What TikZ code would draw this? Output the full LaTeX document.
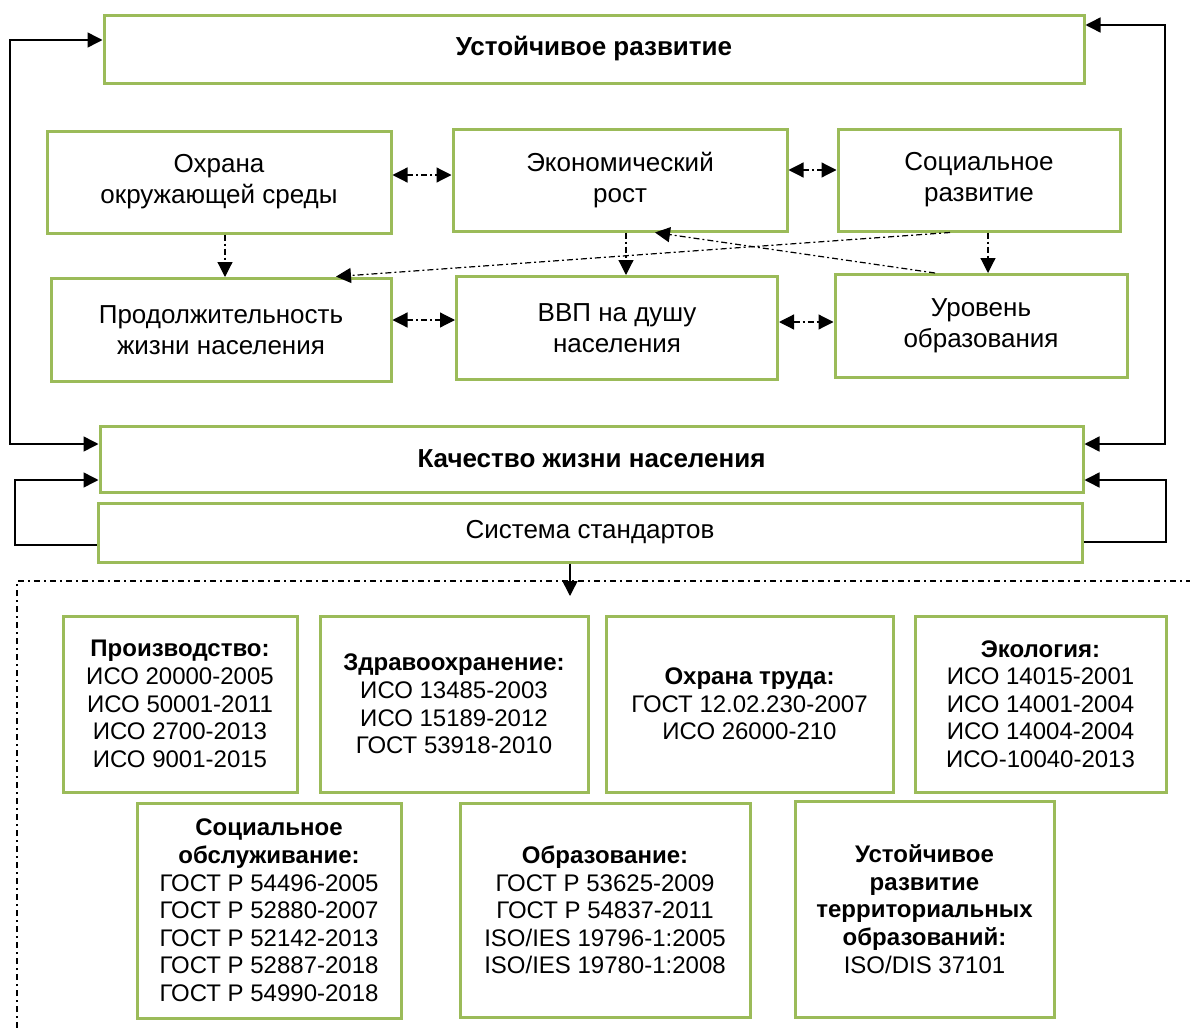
\documentclass[tikz,border=0pt]{standalone}
\usepackage{fontspec}
\setmainfont{Liberation Sans}
\usetikzlibrary{arrows.meta}
\definecolor{boxgreen}{RGB}{155,187,89}

\begin{document}
\begin{tikzpicture}[x=0.5pt,y=-0.5pt,
    >={Triangle[length=7.5pt,width=7.5pt]},
    gbox/.style={draw=boxgreen,line width=1.5pt,fill=white,align=center,
      inner sep=2pt,font=\fontsize{13}{15.5}\selectfont},
    sbox/.style={draw=boxgreen,line width=1.5pt,fill=white,align=center,
      inner sep=2pt,font=\fontsize{12}{13.8}\selectfont},
    fb/.style={line width=0.75pt},
    dda/.style={line width=0.6pt,dash pattern=on 3pt off 1.5pt on 1pt off 1.5pt},
    frame/.style={line width=0.75pt,dash pattern=on 3pt off 2pt on 1pt off 2pt}]
    \useasboundingbox (0,0) rectangle (1190,1028);

    % upper part
    \node[gbox,minimum width=490pt,minimum height=34pt] (ustr) at (594,49)
      {\bfseries Устойчивое развитие};
    \node[gbox,minimum width=172pt,minimum height=51pt] (oxr) at (219,182)
      {Охрана\\окружающей среды};
    \node[gbox,minimum width=167pt,minimum height=51pt] (eko) at (620,180)
      {Экономический\\рост};
    \node[gbox,minimum width=141pt,minimum height=51pt] (soc) at (979,180)
      {Социальное\\развитие};
    \node[gbox,minimum width=170pt,minimum height=51.5pt] (prod) at (221,330)
      {Продолжительность\\жизни населения};
    \node[gbox,minimum width=160.5pt,minimum height=51.5pt] (vvp) at (617,328)
      {ВВП на душу\\населения};
    \node[gbox,minimum width=146pt,minimum height=51.5pt] (urv) at (981,326)
      {Уровень\\образования};
    \node[gbox,minimum width=491.5pt,minimum height=33pt] (kach) at (591.5,459)
      {\bfseries Качество жизни населения};
    \node[gbox,minimum width=492pt,minimum height=29.5pt] (sist) at (590,532.5)
      {Система стандартов};

    % feedback loops
    \coordinate (lt) at (10,40);
    \coordinate (lb) at (10,444);
    \coordinate (rt) at (1165,25);
    \coordinate (rb) at (1165,444);
    \coordinate (ls) at (15,545);
    \coordinate (lu) at (15,480);
    \coordinate (rs) at (1166,542);
    \coordinate (ru) at (1166,480);
    \draw[fb,<->] (ustr.west |- lt) -- (lt) -- (lb) -- (kach.west |- lb);
    \draw[fb,<->] (ustr.east |- rt) -- (rt) -- (rb) -- (kach.east |- rb);
    \draw[fb,->] (sist.west |- ls) -- (ls) -- (lu) -- (kach.west |- lu);
    \draw[fb,->] (sist.east |- rs) -- (rs) -- (ru) -- (kach.east |- ru);

    % links between factors
    \draw[dda,<->] (oxr.east |- 0,175) -- (eko.west |- 0,175);
    \draw[dda,<->] (eko.east |- 0,170) -- (soc.west |- 0,170);
    \draw[dda,<->] (prod.east |- 0,320) -- (vvp.west |- 0,320);
    \draw[dda,<->] (vvp.east |- 0,322) -- (urv.west |- 0,322);
    \draw[dda,->] (oxr.south -| 225,0) -- (prod.north -| 225,0);
    \draw[dda,->] (eko.south -| 626,0) -- (vvp.north -| 626,0);
    \draw[dda,->] (soc.south -| 988,0) -- (urv.north -| 988,0);
    \draw[dda,->,shorten >=3pt] (soc.south -| 950,0) -- (prod.north -| 330,0);
    \draw[dda,->] (urv.north -| 935,0) -- (eko.south -| 655,0);

    % standards
    \coordinate (std) at (570,596);
    \draw[frame] (17,1028) -- (17,581) -- (1190,581);
    \draw[fb,->] (sist.south -| std) -- (std);

    \node[sbox,minimum width=117pt,minimum height=88pt] (proizv) at (180,704)
      {\bfseries Производство:\\ИСО 20000-2005\\ИСО 50001-2011\\ИСО 2700-2013\\ИСО 9001-2015};
    \node[sbox,minimum width=134pt,minimum height=88pt] (zdrav) at (454,704)
      {\bfseries Здравоохранение:\\ИСО 13485-2003\\ИСО 15189-2012\\ГОСТ 53918-2010};
    \node[sbox,minimum width=143.5pt,minimum height=88pt] (trud) at (749.5,704)
      {\bfseries Охрана труда:\\ГОСТ 12.02.230-2007\\ИСО 26000-210};
    \node[sbox,minimum width=125.5pt,minimum height=88pt] (ekol) at (1040.5,704)
      {\bfseries Экология:\\ИСО 14015-2001\\ИСО 14001-2004\\ИСО 14004-2004\\ИСО-10040-2013};
    \node[sbox,minimum width=132pt,minimum height=107.5pt] (socobs) at (269,910.5)
      {\bfseries Социальное\\\bfseries обслуживание:\\ГОСТ Р 54496-2005\\ГОСТ Р 52880-2007\\ГОСТ Р 52142-2013\\ГОСТ Р 52887-2018\\ГОСТ Р 54990-2018};
    \node[sbox,minimum width=145pt,minimum height=107pt] (obraz) at (605,910)
      {\bfseries Образование:\\ГОСТ Р 53625-2009\\ГОСТ Р 54837-2011\\ISO/IES 19796-1:2005\\ISO/IES 19780-1:2008};
    \node[sbox,minimum width=129.5pt,minimum height=108pt] (terr) at (924.5,909)
      {\bfseries Устойчивое\\\bfseries развитие\\\bfseries территориальных\\\bfseries образований:\\ISO/DIS 37101};
  \end{tikzpicture}
\end{document}
